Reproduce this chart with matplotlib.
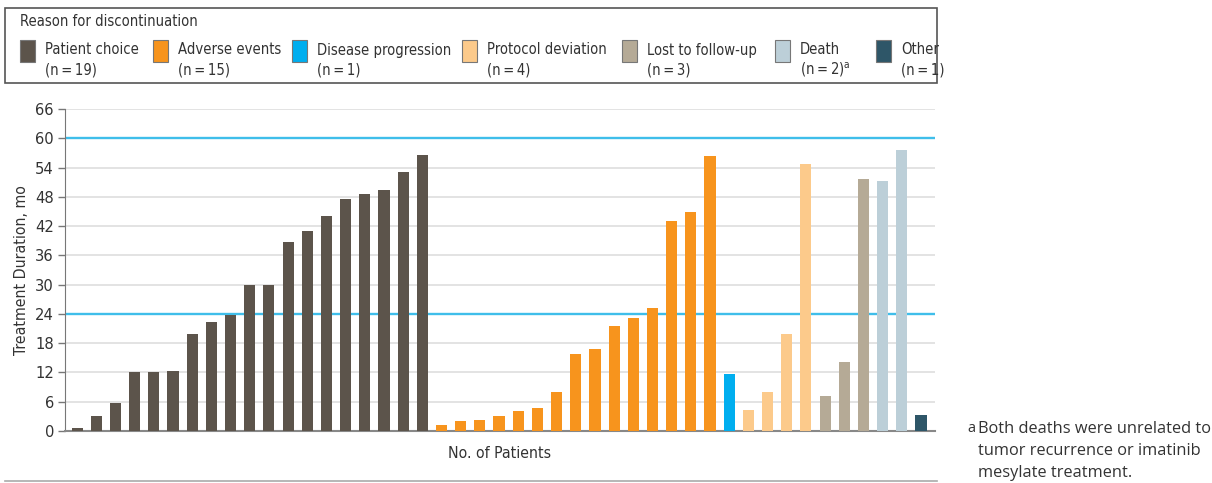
import numpy as np
import matplotlib.pyplot as plt
from matplotlib import font_manager
from matplotlib.patches import Rectangle
from matplotlib.lines import Line2D

# journal uses a condensed face; use DejaVu Sans Condensed if it is there
has_condensed = any(f.name == 'DejaVu Sans' and f.stretch in ('condensed', 'semi-condensed')
                    for f in font_manager.fontManager.ttflist)
plt.rcParams['font.family'] = ['DejaVu Sans']
if has_condensed:
    plt.rcParams['font.stretch'] = 'condensed'
    k = 1.0
else:
    plt.rcParams['font.family'] = ['Roboto', 'DejaVu Sans']
    k = 0.92
fs_leg = 10.6 * k
fs_lab = 11.3 * k
fs_tick = 11.8 * k

# treatment duration (months) per patient, grouped by reason
reasons = ['Patient choice', 'Adverse events', 'Disease progression', 'Protocol deviation',
           'Lost to follow-up', 'Death', 'Other']
counts = ['(n\u2009=\u200919)', '(n\u2009=\u200915)', '(n\u2009=\u20091)', '(n\u2009=\u20094)',
          '(n\u2009=\u20093)', '(n\u2009=\u20092)$^{\\mathregular{a}}$', '(n\u2009=\u20091)']
colors = ['#5c544b', '#f7941d', '#00aeef', '#fcca8b', '#b5aa96', '#bccfd8', '#2e5668']

patient_choice = [0.6, 3.0, 5.7, 12.0, 12.0, 12.4, 19.8, 22.3, 23.7, 29.9, 29.9, 38.7, 41.0,
                  44.0, 47.5, 48.5, 49.4, 53.1, 56.5]
adverse_events = [1.2, 2.0, 2.2, 3.0, 4.0, 4.7, 7.9, 15.7, 16.8, 21.5, 23.1, 25.2, 43.0, 44.9, 56.3]
progression = [11.6]
protocol_dev = [4.4, 7.9, 19.8, 54.7]
lost_followup = [7.1, 14.1, 51.6]
death = [51.2, 57.6]
other = [3.2]

groups = [patient_choice, adverse_events, progression, protocol_dev, lost_followup, death, other]
yticks = [0, 6, 12, 18, 24, 30, 36, 42, 48, 54, 60, 66]

fig = plt.figure(figsize=(12.12, 4.83), dpi=100)
ax = fig.add_axes([65/1212, 52/483, 870/1212, 322/483])

values = []
bar_colors = []
for g, c in zip(groups, colors):
    values += g
    bar_colors += [c] * len(g)
x = np.arange(len(values))

for t in yticks:
    if t in (24, 60):
        ax.axhline(t, color='#3fbeea', lw=1.7, zorder=1)
    elif t > 0:
        ax.axhline(t, color='#dedede', lw=1.2, zorder=1)
ax.bar(x, values, width=0.58, color=bar_colors, zorder=3)

ax.set_xlim(-0.63, len(values) - 0.27)
ax.set_ylim(0, 66)
ax.set_yticks(yticks)
ax.set_xticks([])
ax.tick_params(axis='y', length=5, width=1, color='#777777', labelsize=fs_tick, labelcolor='#333333', pad=3)
for s in ['top', 'right']:
    ax.spines[s].set_visible(False)
ax.spines['left'].set_color('#777777')
ax.spines['bottom'].set_color('#888888')
ax.spines['bottom'].set_linewidth(1.5)
ax.set_ylabel('Treatment Duration, mo', fontsize=fs_lab, color='#333333', labelpad=4)
ax.set_xlabel('No. of Patients', fontsize=fs_lab, color='#333333', labelpad=11)

# legend box drawn by hand
W, H = 1212, 483
fig.add_artist(Rectangle((5/W, 1 - 83/H), 932/W, 75/H, transform=fig.transFigure,
                         fill=False, edgecolor='#555555', lw=1.2))
fig.text(20/W, 1 - 22/H, 'Reason for discontinuation', fontsize=fs_leg, color='#333333', va='center')
swatch_x = [20, 153, 292, 462, 622, 775, 876]
for sx, r, n, c in zip(swatch_x, reasons, counts, colors):
    fig.add_artist(Rectangle((sx/W, 1 - 62/H), 15/W, 22/H, transform=fig.transFigure,
                             facecolor=c, edgecolor='#777777', lw=0.8))
    fig.text((sx + 25)/W, 1 - 50/H, r, fontsize=fs_leg, color='#333333', va='center')
    fig.text((sx + 25)/W, 1 - 70/H, n, fontsize=fs_leg, color='#333333', va='center')

# bottom rule
fig.add_artist(Line2D([5/W, 937/W], [1 - 481/H, 1 - 481/H], transform=fig.transFigure,
                      color='#aaaaaa', lw=1.2))

# footnote
fig.text(967/W, 1 - 428/H, 'a', fontsize=10.5, color='#333333', va='center',
         family='Open Sans', stretch='normal')
fig.text(978/W, 1 - 421/H, 'Both deaths were unrelated to\ntumor recurrence or imatinib\nmesylate treatment.',
         fontsize=11.8, color='#333333', va='top', family='Open Sans', stretch='normal', linespacing=1.5)

plt.savefig('out.png', dpi=100)
